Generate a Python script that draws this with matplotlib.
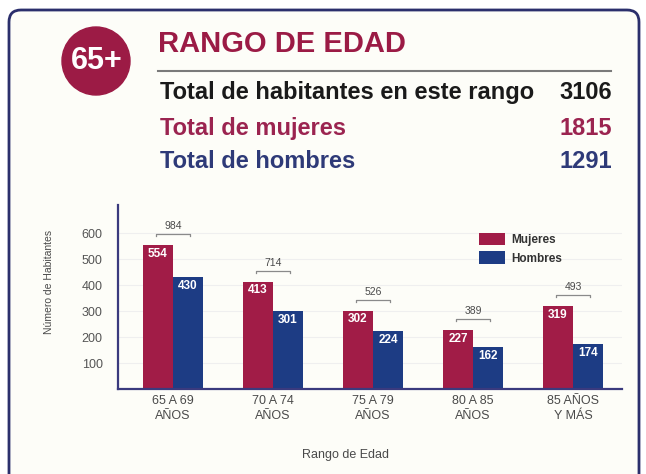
import numpy as np
import matplotlib
matplotlib.use('Agg')
import matplotlib.pyplot as plt
from matplotlib.patches import Circle, FancyBboxPatch

plt.rcParams['font.family'] = ['Liberation Sans', 'DejaVu Sans']

# data
grupos = ['65 A 69\nAÑOS', '70 A 74\nAÑOS', '75 A 79\nAÑOS', '80 A 85\nAÑOS', '85 AÑOS\nY MÁS']
mujeres = [554, 413, 302, 227, 319]
hombres = [430, 301, 224, 162, 174]
totales = [984, 714, 526, 389, 493]
resumen_labels = ['Total de habitantes en este rango', 'Total de mujeres', 'Total de hombres']
resumen_vals = ['3106', '1815', '1291']

c_muj = '#a11c47'
c_hom = '#1d3c84'
c_axis = '#3a3a7e'
c_txt = '#4a4a4a'

W, H = 646, 474
fig = plt.figure(figsize=(W / 100, H / 100), dpi=100)
fig.patch.set_facecolor('white')

# background axes in pixel coordinates
bg = fig.add_axes([0, 0, 1, 1], zorder=0)
bg.set_xlim(0, W)
bg.set_ylim(H, 0)
bg.axis('off')

frame = FancyBboxPatch((9, 10), 630, 490, boxstyle='round,pad=0,rounding_size=12',
                       facecolor='#fdfdf8', edgecolor='#2b2f6c', lw=2)
bg.add_patch(frame)

bg.add_patch(Circle((96, 61), 34, color='#9c1b45'))
bg.text(97, 61, '65+', color='white', fontsize=22, fontweight='bold', ha='center', va='center')

bg.text(158, 44, 'RANGO DE EDAD', color='#9b1b45', fontsize=21, fontweight='bold', va='center')
bg.plot([158, 611], [71, 71], color='#7a7a7a', lw=1.5)

colores_res = ['#1a1a1a', '#9b2450', '#2e3a78']
ys = [92, 128, 161]
for lab, val, col, y in zip(resumen_labels, resumen_vals, colores_res, ys):
    bg.text(160, y, lab, color=col, fontsize=17, fontweight='bold', va='center')
    bg.text(612, y, val, color=col, fontsize=17, fontweight='bold', va='center', ha='right')

bg.text(49, 282, 'Número de Habitantes', rotation=90, color=c_txt, fontsize=7.5, ha='center', va='center')
bg.text(345, 455, 'Rango de Edad', color=c_txt, fontsize=9, ha='center', va='center')

# chart axes
left, right, bottom, top = 118, 622, 389, 205
ax = fig.add_axes([left / W, 1 - bottom / H, (right - left) / W, (bottom - top) / H], zorder=1)
ax.patch.set_alpha(0)

x = np.arange(len(grupos))
w = 0.3
b1 = ax.bar(x - w / 2, mujeres, w, color=c_muj, label='Mujeres')
b2 = ax.bar(x + w / 2, hombres, w, color=c_hom, label='Hombres')

for bars, vals in ((b1, mujeres), (b2, hombres)):
    for r, v in zip(bars, vals):
        ax.annotate(str(v), (r.get_x() + r.get_width() / 2, v), xytext=(0, -2),
                    textcoords='offset points', ha='center', va='top',
                    color='white', fontsize=8.5, fontweight='bold')

for i, t in enumerate(totales):
    ytop = max(mujeres[i], hombres[i]) + 42
    ax.plot([i - 0.17, i - 0.17, i + 0.17, i + 0.17], [ytop - 8, ytop, ytop, ytop - 8],
            color='#8a8a8a', lw=0.9)
    ax.annotate(str(t), (i, ytop), xytext=(0, 2), textcoords='offset points',
                ha='center', va='bottom', color=c_txt, fontsize=7.5)

ax.set_xlim(-0.55, 4.49)
ax.set_ylim(0, 708)
ax.set_yticks([100, 200, 300, 400, 500, 600])
ax.set_xticks(x)
ax.set_xticklabels(grupos, fontsize=9, color=c_txt, linespacing=1.4)
ax.tick_params(axis='y', labelsize=9, labelcolor='#555555', length=0, pad=11)
ax.tick_params(axis='x', length=0, pad=4)
ax.yaxis.grid(True, color='#efefef', lw=0.8)
ax.set_axisbelow(True)
for s in ('top', 'right'):
    ax.spines[s].set_visible(False)
for s in ('left', 'bottom'):
    ax.spines[s].set_color(c_axis)
    ax.spines[s].set_linewidth(1.6)

leg = ax.legend(loc='upper left', bbox_to_anchor=(468 / W, 1 - 222 / H),
                bbox_transform=fig.transFigure, frameon=False, fontsize=8.5,
                handlelength=2.2, handleheight=1.3, labelspacing=0.45, handletextpad=0.6)
for t in leg.get_texts():
    t.set_fontweight('bold')
    t.set_color('#333333')

fig.savefig('out.png', dpi=100)
